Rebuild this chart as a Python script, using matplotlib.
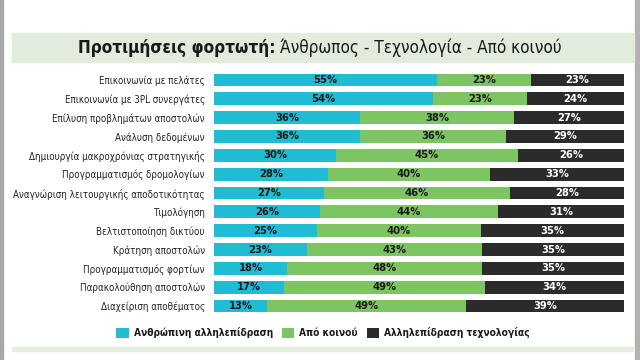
import matplotlib.pyplot as plt
from matplotlib.patches import Rectangle
import numpy as np

plt.rcParams['font.family'] = ['DejaVu Sans']
plt.rcParams['font.stretch'] = 'condensed'

categories = ['Επικοινωνία με πελάτες', 'Επικοινωνία με 3PL συνεργάτες',
              'Επίλυση προβλημάτων αποστολών', 'Ανάλυση δεδομένων',
              'Δημιουργία μακροχρόνιας στρατηγικής', 'Προγραμματισμός δρομολογίων',
              'Αναγνώριση λειτουργικής αποδοτικότητας', 'Τιμολόγηση',
              'Βελτιστοποίηση δικτύου', 'Κράτηση αποστολών',
              'Προγραμματισμός φορτίων', 'Παρακολούθηση αποστολών',
              'Διαχείριση αποθέματος']
human = [55, 54, 36, 36, 30, 28, 27, 26, 25, 23, 18, 17, 13]
joint = [23, 23, 38, 36, 45, 40, 46, 44, 40, 43, 48, 49, 49]
tech = [23, 24, 27, 29, 26, 33, 28, 31, 35, 35, 35, 34, 39]
series_names = ['Ανθρώπινη αλληλεπίδραση', 'Από κοινού', 'Αλληλεπίδραση τεχνολογίας']
colors = ['#1fbcd3', '#7dc462', '#2b2b2b']
text_colors = ['#1a1a1a', '#1a1a1a', 'white']

fig = plt.figure(figsize=(6.4, 3.6), dpi=100)
W, H = 640, 360

# frame: grey edges, header band, bottom line
fig.patches.append(Rectangle((0, 0), 3 / W, 1, transform=fig.transFigure, color='#a9a7a8', zorder=0))
fig.patches.append(Rectangle((635 / W, 0), 5 / W, 1, transform=fig.transFigure, color='#b3b1b2', zorder=0))
fig.patches.append(Rectangle((12 / W, 1 - 62 / H), 622 / W, 29 / H, transform=fig.transFigure,
                             color='#e2ecdd', zorder=0))
fig.patches.append(Rectangle((12 / W, 1 - 351 / H), 621 / W, 4 / H, transform=fig.transFigure,
                             color='#e4efe0', zorder=0))

# title in two pieces, bold + regular
r = fig.canvas.get_renderer()
t1 = fig.text(78 / W, 1 - 48 / H, 'Προτιμήσεις φορτωτή:', fontsize=12.3, fontweight='bold',
              va='center', ha='left', color='#1a1a1a')
t2 = fig.text(0, 1 - 48 / H, 'Άνθρωπος - Τεχνολογία - Από κοινού', fontsize=12.3,
              va='center', ha='left', color='#1a1a1a')
w1 = t1.get_window_extent(r).width
w2 = t2.get_window_extent(r).width
gap = 5
x0 = 320 - (w1 + gap + w2) / 2
t1.set_x(x0 / W)
t2.set_x((x0 + w1 + gap) / W)

ax = fig.add_axes([214 / W, 1 - 315.5 / H, 410 / W, 245 / H])
data = np.array([human, joint, tech], dtype=float)
totals = data.sum(axis=0)
y = np.arange(len(categories))
left = np.zeros(len(categories))
for i in range(3):
    w = data[i] / totals * 100
    ax.barh(y, w, left=left, height=0.68, color=colors[i], label=series_names[i])
    for yy, l, ww, v in zip(y, left, w, data[i]):
        ax.text(l + ww / 2, yy, f'{int(v)}%', ha='center', va='center', fontsize=8,
                fontweight='bold', color=text_colors[i])
    left += w

ax.set_xlim(0, 100)
ax.set_ylim(len(categories) - 0.5, -0.5)
ax.set_yticks(y)
ax.set_yticklabels(categories, fontsize=7.0, color='#222222')
ax.tick_params(axis='y', length=0, pad=6.5)
ax.set_xticks([])
for s in ax.spines.values():
    s.set_visible(False)

leg = fig.legend(loc='center', bbox_to_anchor=(323 / W, 1 - 333 / H), ncol=3, frameon=False,
                 handlelength=1.2, handleheight=1.2, handletextpad=0.5, columnspacing=0.9,
                 prop={'weight': 'bold', 'size': 7.3, 'stretch': 'condensed'})
for t in leg.get_texts():
    t.set_color('#1a1a1a')

fig.savefig('out.png', dpi=100)
